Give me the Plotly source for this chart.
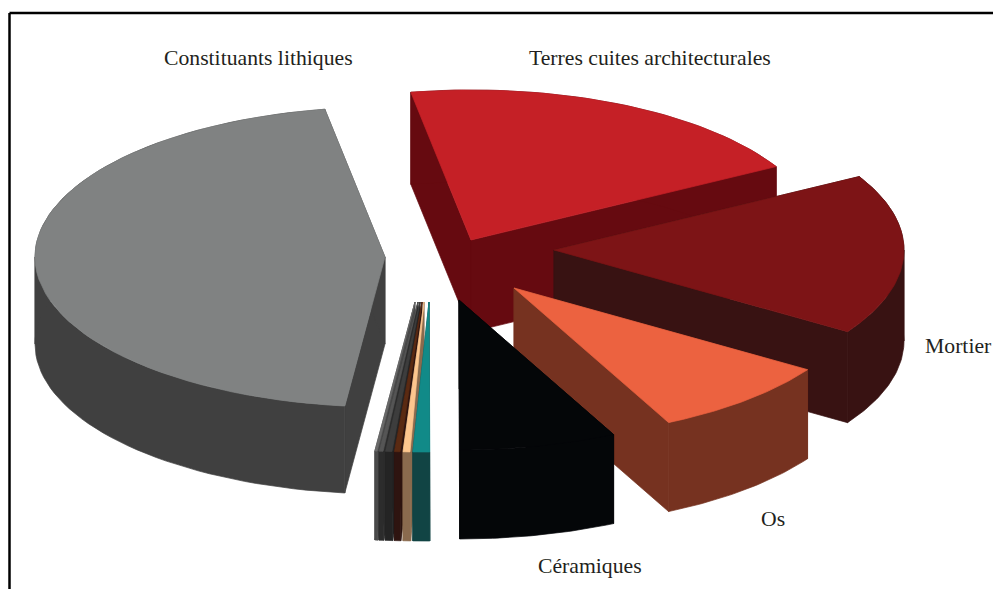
import numpy as np
import plotly.graph_objects as go

# slices clockwise, starting from the top-left edge of the red one
names = ["Terres cuites architecturales", "Mortier", "Os", "Céramiques", "Verre", "Faune",
         "Charbon", "Coquille", "Métal", "Divers", "Constituants lithiques"]
values = [19.6, 17.3, 8.55, 7.25, 0.60, 0.33, 0.27, 0.31, 0.21, 0.14, 45.4]

top_colors = ["#C52026", "#7D1416", "#EC6240", "#040608", "#118A88", "#FDC68E",
              "#5A2A12", "#3D3D3D", "#555555", "#6A6A6A", "#808282"]
side_colors = ["#660A10", "#381212", "#763220", "#040608", "#114444", "#8A6A4E",
               "#2E1410", "#242424", "#2C2C2C", "#4A4A4A", "#404040"]

# exploded position of each slice tip, in page pixels
tip_x = [471, 554, 514, 459, 429, 424, 422, 420, 418, 415, 385]
tip_y = [240, 250, 288, 300, 302, 302, 302, 302, 302, 302, 257]
# the thin slices are a bit wider on the page than their angle
widen = [1, 1, 1, 1, 1.29, 1.06, 1.07, 1.06, 1.05, 1, 1]
depth = [92, 91, 89, 89, 89, 89, 89, 89, 89, 89, 87]

label_text = ["Constituants lithiques", "Terres cuites architecturales", "Mortier", "Os", "Céramiques"]
label_x = [258, 650, 958, 773, 590]
label_y = [58, 58, 346, 519, 566]

RX = 350
RY = 150
START = -9.9

fig = go.Figure()


def add_poly(xs, ys, color, name):
    fig.add_trace(go.Scatter(
        x=list(xs) + [xs[0]],
        y=list(ys) + [ys[0]],
        mode="lines",
        fill="toself",
        fillcolor=color,
        line=dict(width=0.7, color=color),
        name=name,
        hoverinfo="name",
    ))


def add_slice(i, a0, a1):
    t = np.radians(np.linspace(a0, a1, 60))
    ax = tip_x[i] + widen[i] * RX * np.sin(t)
    ay = tip_y[i] - RY * np.cos(t)
    side = side_colors[i]
    d = depth[i]
    # cut faces
    for k in (0, -1):
        add_poly([tip_x[i], ax[k], ax[k], tip_x[i]],
                 [tip_y[i], ay[k], ay[k] + d, tip_y[i] + d], side, names[i])
    # outer wall, split at the left and right extremes so it never crosses itself
    cuts = [a0] + [c for c in (90, 270) if a0 < c < a1] + [a1]
    for c0, c1 in zip(cuts[:-1], cuts[1:]):
        w = np.radians(np.linspace(c0, c1, 40))
        wx = tip_x[i] + widen[i] * RX * np.sin(w)
        wy = tip_y[i] - RY * np.cos(w)
        add_poly(np.concatenate([wx, wx[::-1]]), np.concatenate([wy, wy[::-1] + d]), side, names[i])
    # top
    add_poly(np.concatenate([[tip_x[i]], ax]), np.concatenate([[tip_y[i]], ay]), top_colors[i], names[i])


angles = START + np.concatenate([[0], np.cumsum(values)]) * 360 / sum(values)
# back to front
for i in [10, 9, 8, 7, 6, 5, 4, 0, 1, 2, 3]:
    add_slice(i, angles[i], angles[i + 1])

for txt, x, y in zip(label_text, label_x, label_y):
    fig.add_annotation(x=x, y=y, text=txt, showarrow=False,
                       font=dict(family="Liberation Serif", size=21.7, color="#231F20"))

# frame, open on the right and at the bottom
fig.add_shape(type="line", x0=9.5, x1=993, y0=13, y1=13, line=dict(color="black", width=2.5))
fig.add_shape(type="line", x0=9.5, x1=9.5, y0=13, y1=589, line=dict(color="black", width=2.5))

fig.update_layout(
    width=993,
    height=589,
    margin=dict(l=0, r=0, t=0, b=0),
    paper_bgcolor="white",
    plot_bgcolor="white",
    showlegend=False,
    xaxis=dict(range=[0, 993], visible=False),
    yaxis=dict(range=[589, 0], visible=False),
)
fig.write_html("out.html", config=dict(displayModeBar=False),
               post_script="document.body.style.margin='0';document.body.style.overflow='hidden';")
